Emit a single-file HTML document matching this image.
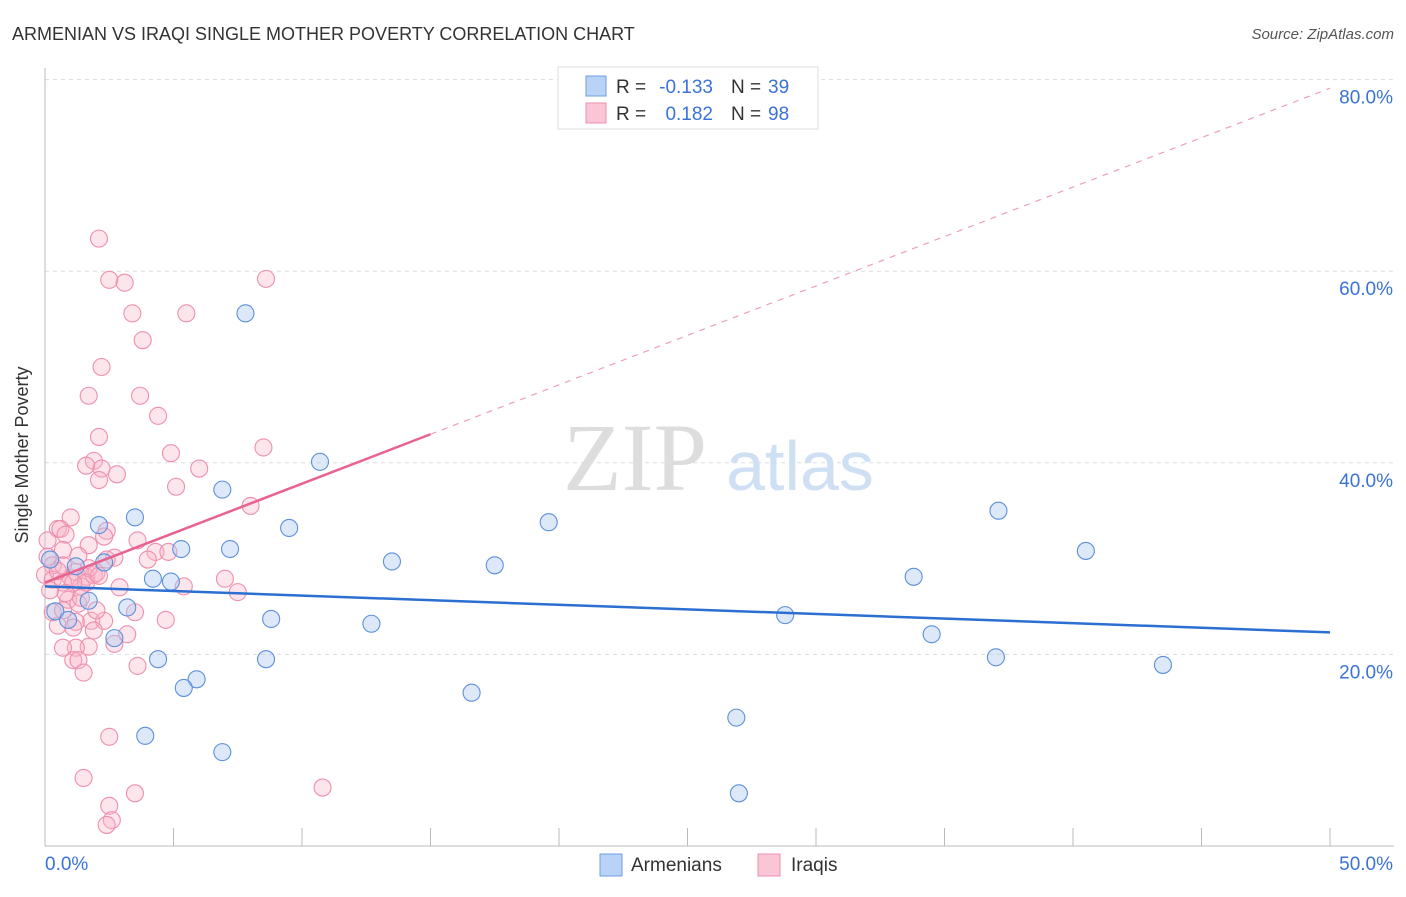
<!DOCTYPE html>
<html><head><meta charset="utf-8"><style>
body{margin:0;background:#fff;font-family:"Liberation Sans",sans-serif}
</style></head><body>
<svg width="1406" height="892" xmlns="http://www.w3.org/2000/svg">
<text x="12" y="40" font-size="18" fill="#333">ARMENIAN VS IRAQI SINGLE MOTHER POVERTY CORRELATION CHART</text>
<text x="1394" y="39" font-size="15" fill="#555" font-style="italic" text-anchor="end">Source: ZipAtlas.com</text>
<g id="grid"></g>
<text x="635" y="490" font-size="96" fill="#ddd" font-family="Liberation Serif" text-anchor="middle">ZIP</text>
<text x="800" y="490" font-size="70" fill="#cfe0f5" text-anchor="middle">atlas</text>
<g id="marks"></g>
<text x="28" y="455" font-size="18" fill="#333" transform="rotate(-90 28 455)" text-anchor="middle">Single Mother Poverty</text>
<g>
<rect x="558" y="67" width="260" height="62" fill="#fff" stroke="#ddd"/>
<rect x="586" y="76" width="20" height="20" fill="#b8d3f5" stroke="#6d9fe0"/>
<rect x="586" y="103" width="20" height="20" fill="#fac5d5" stroke="#ee8fae"/>
<text x="616" y="93" font-size="19" fill="#333">R =</text>
<text x="713" y="93" font-size="19" fill="#3a72d8" text-anchor="end">-0.133</text>
<text x="731" y="93" font-size="19" fill="#333">N =</text>
<text x="768" y="93" font-size="19" fill="#3a72d8">39</text>
<text x="616" y="120" font-size="19" fill="#333">R =</text>
<text x="713" y="120" font-size="19" fill="#3a72d8" text-anchor="end">0.182</text>
<text x="731" y="120" font-size="19" fill="#333">N =</text>
<text x="768" y="120" font-size="19" fill="#3a72d8">98</text>
</g>
<g>
<rect x="600" y="854" width="22" height="22" fill="#b8d3f5" stroke="#6d9fe0"/>
<text x="631" y="871" font-size="19" fill="#333">Armenians</text>
<rect x="758" y="854" width="22" height="22" fill="#fac5d5" stroke="#ee8fae"/>
<text x="791" y="871" font-size="19" fill="#333">Iraqis</text>
</g>
</svg>
<script>
const yTicks=[20,40,60,80];
const yTickLabels=["20.0%","40.0%","60.0%","80.0%"];
const xEndLabels=["0.0%","50.0%"];
const armX=[7.8,10.7,6.9,3.5,2.1,9.5,19.6,37.1,40.5,5.3,7.2,2.3,1.2,13.5,17.5,4.2,4.9,33.8,1.7,3.2,0.4,0.9,8.8,12.7,28.8,2.7,34.5,4.4,8.6,37.0,43.5,5.9,5.4,16.6,26.9,3.9,6.9,27.0,0.2];
const armY=[55.6,40.1,37.2,34.3,33.5,33.2,33.8,35.0,30.8,31.0,31.0,29.6,29.2,29.7,29.3,27.9,27.6,28.1,25.6,24.9,24.5,23.6,23.7,23.2,24.1,21.7,22.1,19.5,19.5,19.7,18.9,17.4,16.5,16.0,13.4,11.5,9.8,5.5,29.9];
const iraX=[2.1,2.5,3.1,8.6,3.4,5.5,3.8,2.2,1.7,3.7,4.4,2.1,8.5,4.9,1.9,1.6,2.2,6.0,2.8,2.1,5.1,8.0,1.0,0.5,0.6,2.4,2.3,0.8,1.7,3.6,0.7,4.3,4.8,4.0,2.7,0.1,0.1,0.3,0.7,0,1.0,1.2,1.6,1.9,2.0,1.7,0.3,0.7,1.4,1.6,0.9,1.3,0.3,0.7,1.2,1.8,2.3,0.5,1.1,1.9,3.5,4.7,5.4,7.0,7.5,3.2,2.7,1.7,1.2,0.7,1.1,1.3,1.5,3.6,2.5,1.5,3.5,10.8,2.5,2.6,2.4,2.1,0.5,1.1,0.8,1.4,2.0,2.9,2.4,1.3,0.2];
const iraY=[63.4,59.1,58.8,59.2,55.6,55.6,52.8,50.0,47.0,47.0,44.9,42.7,41.6,41.0,40.2,39.7,39.4,39.4,38.8,38.2,37.5,35.5,34.3,33.1,33.1,32.9,32.3,32.5,31.4,31.9,30.9,30.7,30.7,29.9,30.1,31.9,30.2,29.3,29.3,28.3,28.0,28.6,28.1,28.3,28.5,29.0,27.8,27.5,27.1,27.5,25.7,25.3,24.4,24.6,23.4,23.5,23.5,23.0,22.8,22.5,24.4,23.6,27.1,27.9,26.5,22.1,21.1,20.8,20.7,20.7,19.4,19.4,18.1,18.8,11.4,7.1,5.5,6.1,4.2,2.7,2.2,28.2,28.7,27.5,26.4,25.9,24.6,27.0,29.9,30.3,26.7];
const armTrend=[27.1,22.3];
const iraTrend=[27.5,79.1];
const X=v=>45+v*25.7, Y=v=>846-v*9.58;
const NS="http://www.w3.org/2000/svg";
function mk(t,a,p){const e=document.createElementNS(NS,t);for(const k in a)e.setAttribute(k,a[k]);p.appendChild(e);return e;}
const grid=document.getElementById('grid'), marks=document.getElementById('marks');
yTicks.forEach((t,i)=>{
 const l=mk('line',{x1:45,x2:1394,y1:Y(t),y2:Y(t),stroke:'#ddd','stroke-dasharray':'4,4'},grid);
 
 
 const tx=mk('text',{x:1393,y:Y(t)+24,'font-size':19,fill:'#3a72d8','text-anchor':'end'},grid);
 tx.textContent=yTickLabels[i];
 
 
});
const ax=mk('line',{x1:45,x2:1394,y1:846,y2:846,stroke:'#bbb'},grid);


const ay=mk('line',{x1:45,x2:45,y1:68,y2:846,stroke:'#bbb'},grid);


for(let i=0;i<=10;i++){const t=mk('line',{x1:X(i*5),x2:X(i*5),y1:828,y2:846,stroke:'#bbb'},grid);
 
 }
[[0,'start'],[50,'end']].forEach((d,i)=>{const t=mk('text',{x:i?1393:45,y:870,'font-size':19,fill:'#3a72d8','text-anchor':d[1]},grid);t.textContent=xEndLabels[i];
 
 });
iraX.forEach((v,i)=>{const c=mk('circle',{cx:X(v),cy:Y(iraY[i]),r:8.5,fill:'rgba(248,180,200,0.35)',stroke:'#ee8fae','stroke-width':1.1},marks);
 
 });
armX.forEach((v,i)=>{const c=mk('circle',{cx:X(v),cy:Y(armY[i]),r:8.5,fill:'rgba(170,200,240,0.4)',stroke:'#5d90dc','stroke-width':1.1},marks);
 
 });
const bl=mk('line',{x1:X(0),y1:Y(armTrend[0]),x2:X(50),y2:Y(armTrend[1]),stroke:'#2b6fd1','stroke-width':2.5},marks);


const iy=x=>iraTrend[0]+(iraTrend[1]-iraTrend[0])*x/50;
const pl=mk('line',{x1:X(0),y1:Y(iy(0)),x2:X(15),y2:Y(iy(15)),stroke:'#e8638f','stroke-width':2.5},marks);


const pd=mk('line',{x1:X(15),y1:Y(iy(15)),x2:X(50),y2:Y(iy(50)),stroke:'#eca0b8','stroke-width':1.2,'stroke-dasharray':'6,6'},marks);


</script>
</body></html>
